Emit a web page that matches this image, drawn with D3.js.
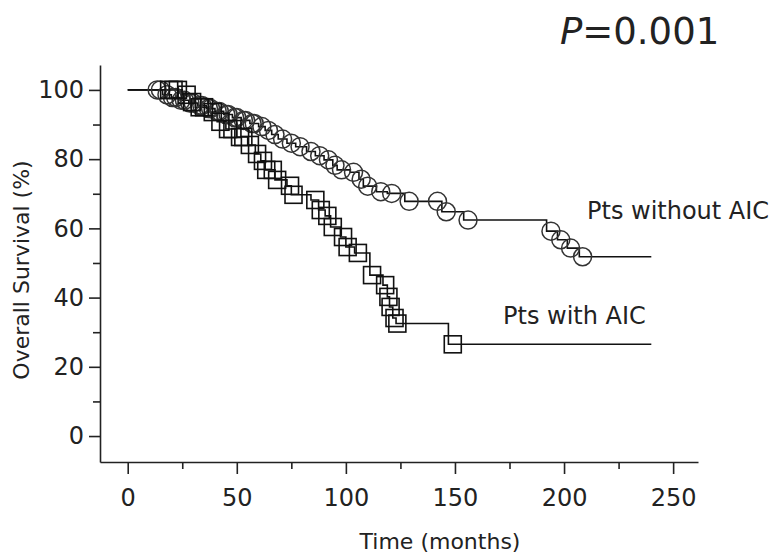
<!DOCTYPE html>
<html>
<head>
<meta charset="utf-8">
<script src="https://cdn.jsdelivr.net/npm/d3@7"></script>
<style>
  html, body { margin: 0; padding: 0; background: #fff; }
  svg { display: block; }
  text { font-family: "DejaVu Sans", "Open Sans", sans-serif; fill: #222; }
</style>
</head>
<body>
<svg id="chart" width="783" height="560"></svg>
<script>
// ---- data ----
const xTicks = [0, 50, 100, 150, 200, 250];
const xMinorTicks = [25, 75, 125, 175, 225];
const yTicks = [0, 20, 40, 60, 80, 100];
const yMinorTicks = [10, 30, 50, 70, 90];
const followUpEnd = 240;

// Pts without AIC: event times and survival after each drop
const withoutEventTimes = [16, 20, 24, 28, 32, 36, 40, 44, 48, 52, 56, 60, 63, 66, 69, 73, 77, 82, 86, 90, 94, 96, 102, 106, 108, 114, 119, 127, 144, 154, 192, 197, 201.5, 207];
const withoutEventSurv  = [98.6, 97.8, 97.0, 96.2, 95.5, 94.6, 93.8, 92.9, 92.0, 91.2, 90.3, 89.4, 88.3, 87.1, 85.8, 84.6, 83.6, 82.2, 81.0, 79.8, 78.2, 76.9, 76.2, 74.2, 72.2, 70.6, 70.1, 67.8, 64.8, 62.4, 59.2, 56.7, 54.3, 51.8];
const withoutCensorTimes = [13.5, 15, 18, 20.5, 22, 24.5, 26, 28.5, 30, 33, 34, 37, 38, 41, 42, 45, 46, 49, 50, 53, 54, 57, 58, 61.5, 64.5, 67.5, 71, 75, 79, 84, 88, 92, 95, 98, 103.5, 107, 110, 116, 121, 129, 142, 146, 156, 194, 198.5, 203, 208.5];

// Pts with AIC
const withEventTimes = [25, 28.5, 31, 37, 41, 45, 50, 55, 58.5, 61, 63, 67.5, 73, 75, 84, 87.5, 90.5, 93, 97.5, 100, 104, 111, 117, 119, 120, 121.5, 123, 147];
const withEventSurv  = [98.6, 96.5, 95.0, 93.6, 90.8, 88.7, 86.4, 84.1, 81.5, 79.5, 76.9, 74.0, 72.3, 69.7, 68.2, 65.3, 63.6, 60.4, 57.5, 54.6, 52.9, 46.5, 43.6, 40.2, 37.3, 34.1, 32.5, 26.5];
const withCensorTimes = [19, 21, 23, 27, 29.5, 33, 35, 39, 42.5, 46, 48, 51.5, 53, 56, 59.3, 62, 63.5, 66.5, 68.5, 74.4, 76, 86, 88.5, 91.5, 94, 98.7, 100.8, 105.5, 112, 118, 119.5, 120.5, 122.3, 123.6, 149];

// ---- layout ----
const svg = d3.select("#chart");
const x = d3.scaleLinear().domain([-12.7, 261.4]).range([100, 698]);
const y = d3.scaleLinear().domain([-7.5, 107.2]).range([462, 65]);

function survAt(times, surv, t) {
  let s = 100;
  for (let i = 0; i < times.length; i++) { if (times[i] <= t) s = surv[i]; }
  return s;
}
function stepPoints(times, surv) {
  const pts = [[0, 100]];
  times.forEach((t, i) => pts.push([t, surv[i]]));
  pts.push([followUpEnd, surv[surv.length - 1]]);
  return pts;
}
const line = d3.line().x(d => x(d[0])).y(d => y(d[1])).curve(d3.curveStepAfter);

// axes
const gx = svg.append("g").attr("transform", "translate(0,462)")
  .call(d3.axisBottom(x).tickValues(xTicks).tickSize(12).tickSizeOuter(0).tickPadding(15));
svg.append("g").attr("transform", "translate(0,462)")
  .call(d3.axisBottom(x).tickValues(xMinorTicks).tickSize(7).tickFormat("")).select(".domain").remove();
const gy = svg.append("g").attr("transform", "translate(100,0)")
  .call(d3.axisLeft(y).tickValues(yTicks).tickSize(11).tickSizeOuter(0).tickPadding(5));
svg.append("g").attr("transform", "translate(100,0)")
  .call(d3.axisLeft(y).tickValues(yMinorTicks).tickSize(7).tickFormat("")).select(".domain").remove();

svg.selectAll(".domain, .tick line").attr("stroke", "#222").attr("stroke-width", 1.6);
gx.selectAll(".tick text").style("font-size", "24px").attr("fill", "#222");
gy.selectAll(".tick text").style("font-size", "24px").attr("fill", "#222");

// axis titles
svg.append("text").attr("x", 440).attr("y", 549).attr("text-anchor", "middle")
  .style("font-size", "22px").text("Time (months)");
svg.append("text").attr("transform", "translate(29,270) rotate(-90)").attr("text-anchor", "middle")
  .style("font-size", "22px").text("Overall Survival (%)");

// curves
const g = svg.append("g");
g.append("path").attr("d", line(stepPoints(withoutEventTimes, withoutEventSurv)))
  .attr("fill", "none").attr("stroke", "#111").attr("stroke-width", 1.6);
g.append("path").attr("d", line(stepPoints(withEventTimes, withEventSurv)))
  .attr("fill", "none").attr("stroke", "#111").attr("stroke-width", 1.6);

// censor marks
g.selectAll("circle.cens").data(withoutCensorTimes).enter().append("circle")
  .attr("class", "cens")
  .attr("cx", d => x(d)).attr("cy", d => y(survAt(withoutEventTimes, withoutEventSurv, d)))
  .attr("r", 9).attr("fill", "none").attr("stroke", "#333").attr("stroke-width", 1.5);
const sq = 17;
g.selectAll("rect.cens").data(withCensorTimes).enter().append("rect")
  .attr("class", "cens")
  .attr("x", d => x(d) - sq / 2).attr("y", d => y(survAt(withEventTimes, withEventSurv, d)) - sq / 2)
  .attr("width", sq).attr("height", sq)
  .attr("fill", "none").attr("stroke", "#111").attr("stroke-width", 1.6);

// annotations
svg.append("text").attr("x", 587).attr("y", 219).style("font-size", "24px").text("Pts without AIC");
svg.append("text").attr("x", 503).attr("y", 324).style("font-size", "24px").text("Pts with AIC");
const p = svg.append("text").attr("x", 560).attr("y", 44).style("font-size", "37px");
p.append("tspan").style("font-style", "italic").text("P");
p.append("tspan").text("=0.001");
</script>
</body>
</html>
